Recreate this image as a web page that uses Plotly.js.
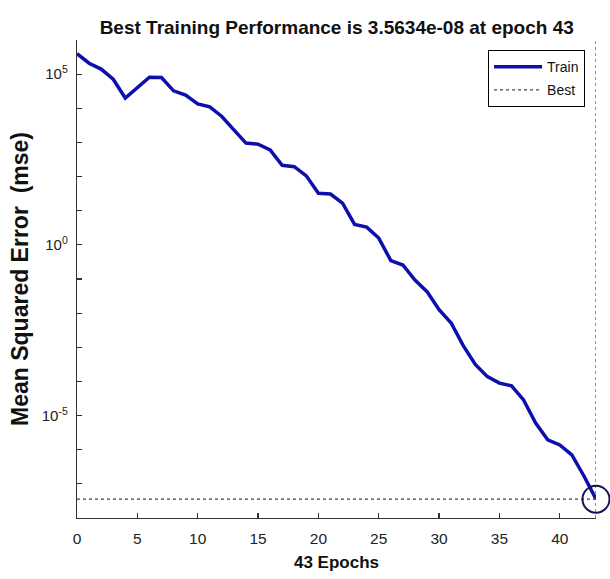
<!DOCTYPE html>
<html>
<head>
<meta charset="utf-8">
<script src="https://cdn.plot.ly/plotly-3.0.1.min.js"></script>
<style>html,body{margin:0;padding:0;background:#fff;}#chart{width:610px;height:579px;}</style>
</head>
<body>
<div id="chart"></div>
<script>
// Data
const epochs = [0,1,2,3,4,5,6,7,8,9,10,11,12,13,14,15,16,17,18,19,20,21,22,23,24,25,26,27,28,29,30,31,32,33,34,35,36,37,38,39,40,41,42,43];
const trainMse = [3.98e5,2.09e5,1.41e5,7.08e4,2.00e4,4.17e4,8.13e4,7.94e4,3.24e4,2.45e4,1.35e4,1.10e4,5.75e3,2.34e3,955,891,603,214,195,105,32.4,30.9,16.6,3.98,3.31,1.58,0.347,0.257,0.0933,0.0427,0.0126,5.13e-3,1.12e-3,3.16e-4,1.38e-4,8.91e-5,7.41e-5,2.88e-5,6.03e-6,1.95e-6,1.38e-6,7.08e-7,1.70e-7,3.5634e-8];
const bestEpoch = 43;
const bestPerf = 3.5634e-8;
const yTickVals = [1e-8,1e-7,1e-6,1e-5,1e-4,1e-3,1e-2,1e-1,1e0,1e1,1e2,1e3,1e4,1e5,1e6];
const yTickText = ['','','','10<sup>-5</sup>','','','','','10<sup>0</sup>','','','','','10<sup>5</sup>',''];
const yLogRange = [-8, 6];

const font = 'Liberation Sans, Arial, sans-serif';
const traces = [
  {
    x: epochs, y: trainMse, type: 'scatter', mode: 'lines', name: 'Train',
    line: {color: '#0e0eac', width: 3.5}, legendgroup: 'a'
  },
  {
    x: [epochs[0], bestEpoch], y: [bestPerf, bestPerf], type: 'scatter', mode: 'lines', name: 'Best',
    line: {color: '#444', width: 1.2, dash: 'dot'}, legendgroup: 'b'
  },
  {
    x: [bestEpoch, bestEpoch], y: [Math.pow(10, yLogRange[0]), Math.pow(10, yLogRange[1])], type: 'scatter', mode: 'lines',
    line: {color: '#444', width: 1.2, dash: 'dot'}, showlegend: false, cliponaxis: false
  },
  {
    x: [bestEpoch], y: [bestPerf], type: 'scatter', mode: 'markers', showlegend: false, cliponaxis: false,
    marker: {symbol: 'circle-open', size: 27, color: '#141458', line: {width: 2, color: '#141458'}}
  }
];

const layout = {
  width: 610, height: 579,
  margin: {l: 77, r: 14, t: 40, b: 61},
  paper_bgcolor: '#fff', plot_bgcolor: '#fff',
  font: {family: font, color: '#222'},
  title: {
    text: '<b>Best Training Performance is 3.5634e-08 at epoch 43</b>',
    font: {family: font, size: 19, color: '#111'},
    x: 0.552, xanchor: 'center', y: 0.953, yanchor: 'middle', yref: 'container'
  },
  xaxis: {
    range: [0, 43], tick0: 0, dtick: 5, showgrid: false, zeroline: false,
    showline: true, linecolor: '#333', linewidth: 1.2,
    ticks: 'inside', ticklen: 5, tickcolor: '#333', tickwidth: 1.2,
    tickfont: {family: font, size: 15.5, color: '#222'},
    ticklabelstandoff: 6,
    title: {text: '<b>43 Epochs</b>', font: {family: font, size: 17, color: '#111'}, standoff: 10}
  },
  yaxis: {
    type: 'log', range: yLogRange, tickvals: yTickVals, ticktext: yTickText,
    showgrid: false, zeroline: false,
    showline: true, linecolor: '#333', linewidth: 1.2,
    ticks: 'inside', ticklen: 5, tickcolor: '#333', tickwidth: 1.2,
    tickfont: {family: font, size: 15, color: '#222'},
    ticklabelstandoff: 5,
    title: {text: '<b>Mean Squared Error\u00a0 (mse)</b>', font: {family: font, size: 23, color: '#111'}, standoff: 6}
  },
  showlegend: true,
  legend: {
    x: 0.792, y: 0.979, xanchor: 'left', yanchor: 'top',
    bordercolor: '#000', borderwidth: 1, bgcolor: '#fff',
    font: {family: font, size: 14, color: '#111'},
    tracegroupgap: 2, itemwidth: 48
  }
};

Plotly.newPlot('chart', traces, layout, {displayModeBar: false, staticPlot: true});
</script>
</body>
</html>
